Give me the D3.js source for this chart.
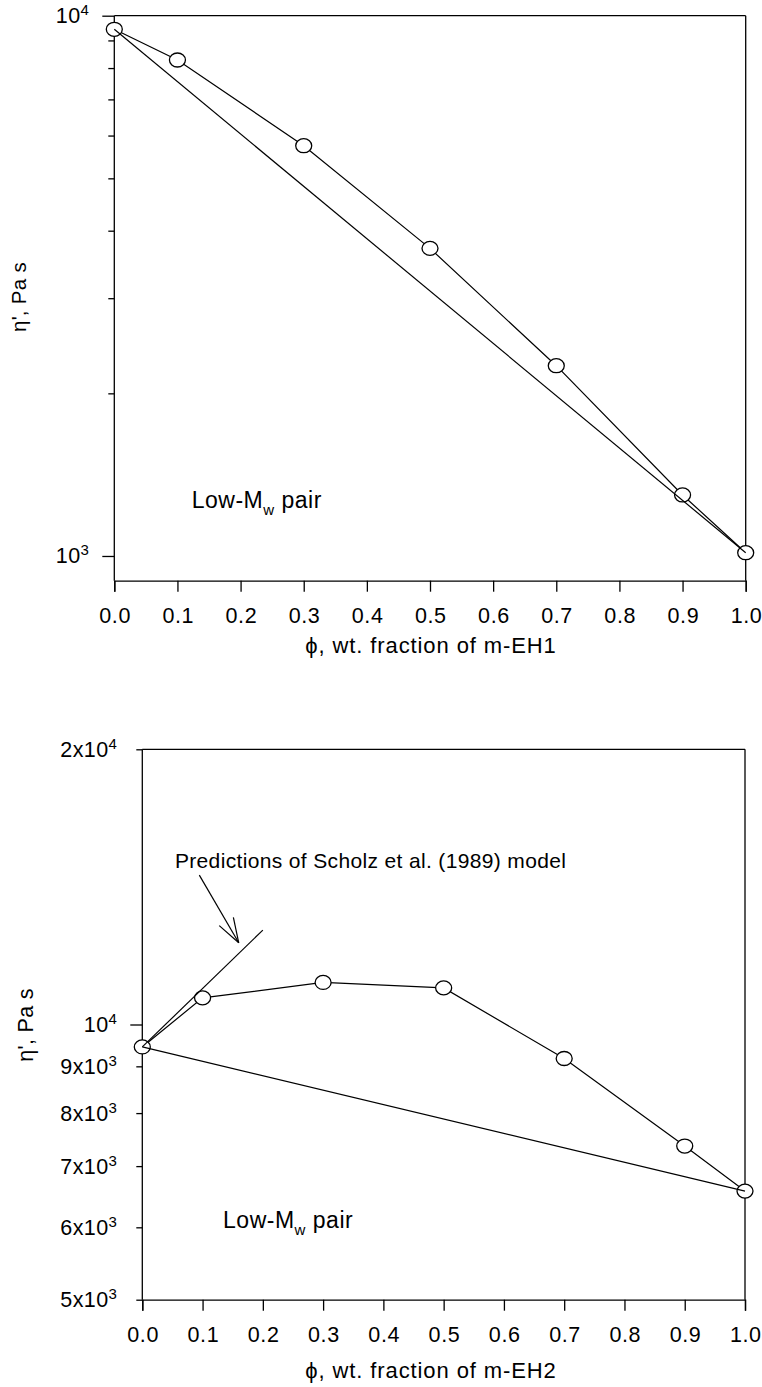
<!DOCTYPE html>
<html>
<head>
<meta charset="utf-8">
<script src="https://cdn.jsdelivr.net/npm/d3@7"></script>
<style>
  html, body { margin: 0; padding: 0; background: #fff; }
  svg { display: block; }
  text { font-family: "Liberation Sans", Arial, Helvetica, sans-serif; fill: #000; }
</style>
</head>
<body>
<svg id="chart" width="762" height="1387"></svg>
<script>
// ---------- data ----------
const phi = [0, 0.1, 0.3, 0.5, 0.7, 0.9, 1.0];
const etaTop = [9437, 8279, 5746, 3710, 2250, 1297, 1014];       // m-EH1 blends
const etaBottom = [9451, 10693, 11118, 10966, 9179, 7363, 6573];  // m-EH2 blends
const scholzPhi = [0, 0.2];
const scholzEta = [9451, 12683];
const xTicks = [0, 0.1, 0.2, 0.3, 0.4, 0.5, 0.6, 0.7, 0.8, 0.9, 1.0];
const topMajorTicks = [1000, 10000];
const topMinorTicks = [2000, 3000, 4000, 5000, 6000, 7000, 8000, 9000];
const bottomLabelTicks = [5000, 6000, 7000, 8000, 9000, 10000, 20000];
const bottomMajorTicks = [10000];
const bottomMinorTicks = [5000, 6000, 7000, 8000, 9000, 20000];
const topXTitle = "ϕ, wt. fraction of m-EH1";
const bottomXTitle = "ϕ, wt. fraction of m-EH2";
const yTitle = "η', Pa s";
const noteText = "Predictions of Scholz et al. (1989) model";

const svg = d3.select("#chart");
const FS_TICK = 21.5, FS_TITLE = 22, FS_SUP = 15;

function supLabel(sel, base, exp) {
  sel.text(null);
  sel.append("tspan").text(base);
  sel.append("tspan").attr("dy", -8).attr("font-size", FS_SUP).text(exp);
}
function fmtSci(v) {
  const e = Math.floor(Math.log10(v) + 1e-9);
  const m = Math.round(v / Math.pow(10, e));
  return { base: m === 1 ? "10" : m + "x10", exp: String(e) };
}

function panel(cfg) {
  const g = svg.append("g");
  const x = d3.scaleLinear().domain([0, 1]).range([cfg.left, cfg.right]);
  const y = d3.scaleLog().domain(cfg.yDomain).range([cfg.bottom, cfg.top]);

  // frame (top & right)
  g.append("line").attr("x1", cfg.left).attr("x2", cfg.right).attr("y1", cfg.top).attr("y2", cfg.top)
    .attr("stroke", "#000").attr("stroke-width", 1.3);
  g.append("line").attr("x1", cfg.right).attr("x2", cfg.right).attr("y1", cfg.top).attr("y2", cfg.bottom)
    .attr("stroke", "#000").attr("stroke-width", 1.3);

  // x axis
  const xa = g.append("g").attr("transform", `translate(0,${cfg.bottom})`)
    .call(d3.axisBottom(x).tickValues(xTicks).tickSize(11).tickPadding(14).tickFormat(d3.format(".1f")));
  xa.select(".domain").attr("stroke", "#000").attr("stroke-width", 1.3);
  xa.selectAll(".tick line").attr("stroke", "#000").attr("stroke-width", 1.3);
  xa.selectAll(".tick text").attr("font-size", FS_TICK).attr("font-family", null)
    .attr("letter-spacing", 0.6).attr("dx", 0.3)
    .attr("dy", null).attr("y", 42.6);

  // y axis: major ticks
  const ya = g.append("g").attr("transform", `translate(${cfg.left},0)`)
    .call(d3.axisLeft(y).tickValues(cfg.majorTicks).tickSize(12).tickSizeOuter(0).tickFormat(() => ""));
  ya.select(".domain").attr("stroke", "#000").attr("stroke-width", 1.3)
    .attr("d", `M0,${cfg.bottom}V${cfg.top}`);
  ya.selectAll(".tick line").attr("stroke", "#000").attr("stroke-width", 1.3);
  ya.selectAll(".tick text").remove();
  // minor ticks
  const ym = g.append("g").attr("transform", `translate(${cfg.left},0)`)
    .call(d3.axisLeft(y).tickValues(cfg.minorTicks).tickSize(6).tickFormat(() => ""));
  ym.select(".domain").remove();
  ym.selectAll(".tick line").attr("stroke", "#000").attr("stroke-width", 1.3);
  ym.selectAll(".tick text").remove();
  // labels
  g.selectAll(".ylab").data(cfg.labelTicks).join("text")
    .attr("class", "ylab")
    .attr("x", cfg.left - 25)
    .attr("y", d => y(d) + 7.5)
    .attr("text-anchor", "end")
    .attr("font-size", FS_TICK)
    .attr("letter-spacing", 0.4)
    .each(function (d) { const f = fmtSci(d); supLabel(d3.select(this), f.base, f.exp); });

  // axis titles
  g.append("text").attr("x", 431).attr("y", cfg.bottom + cfg.xTitleOff).attr("text-anchor", "middle")
    .attr("font-size", FS_TITLE).attr("letter-spacing", 0.9).text(cfg.xTitle);
  g.append("text").attr("transform", `translate(${cfg.yTitleX},${cfg.yTitleY}) rotate(-90)`)
    .attr("text-anchor", "middle").attr("font-size", cfg.yTitleSize).attr("letter-spacing", 0.3).text(yTitle);

  // data line
  const pts = phi.map((p, i) => [p, cfg.eta[i]]);
  const line = d3.line().x(d => x(d[0])).y(d => y(d[1]));
  g.append("path").attr("d", line(pts)).attr("fill", "none").attr("stroke", "#000").attr("stroke-width", 1.2);
  g.selectAll(".pt").data(pts).join("ellipse").attr("class", "pt")
    .attr("cx", d => x(d[0])).attr("cy", d => y(d[1])).attr("rx", 8).attr("ry", 7)
    .attr("fill", "#fff").attr("stroke", "#000").attr("stroke-width", 1.3);
  // log-additivity line between the pure components
  const mix = [pts[0], pts[pts.length - 1]];
  g.append("path").attr("d", line(mix)).attr("fill", "none").attr("stroke", "#000").attr("stroke-width", 1.2);

  // label
  const lt = g.append("text").attr("x", x(cfg.lowPos[0])).attr("y", y(cfg.lowPos[1]))
    .attr("font-size", 23).attr("letter-spacing", 0.5);
  lt.append("tspan").text("Low-M");
  lt.append("tspan").attr("dy", 7).attr("font-size", 15).text("w");
  lt.append("tspan").attr("dy", -7).text(" pair");
  return { g, x, y, line };
}

panel({
  left: 114.3, right: 745.7, top: 15.7, bottom: 580.7,
  yDomain: [900, 10000],
  majorTicks: topMajorTicks, minorTicks: topMinorTicks, labelTicks: topMajorTicks,
  eta: etaTop, xTitle: topXTitle, xTitleOff: 72.6, yTitleX: 26, yTitleY: 297, yTitleSize: 20.5,
  lowPos: [0.1226, 1225]
});

const p2 = panel({
  left: 142.3, right: 745, top: 749.3, bottom: 1299.7,
  yDomain: [5000, 20000],
  majorTicks: bottomMajorTicks, minorTicks: bottomMinorTicks, labelTicks: bottomLabelTicks,
  eta: etaBottom, xTitle: bottomXTitle, xTitleOff: 78.6, yTitleX: 33, yTitleY: 1025, yTitleSize: 21.5,
  lowPos: [0.134, 5984]
});

// Scholz prediction line + annotation
const sch = scholzPhi.map((p, i) => [p, scholzEta[i]]);
p2.g.append("path").attr("d", p2.line(sch)).attr("fill", "none").attr("stroke", "#000").attr("stroke-width", 1.2);
const noteAt = [0.0541, 14823];
p2.g.append("text").attr("x", p2.x(noteAt[0])).attr("y", p2.y(noteAt[1]))
  .attr("font-size", 21).attr("letter-spacing", 0.35).text(noteText);
const arrowFrom = [0.0946, 14567], arrowTo = [0.16, 12285];
const ax1 = p2.x(arrowFrom[0]), ay1 = p2.y(arrowFrom[1]), ax2 = p2.x(arrowTo[0]), ay2 = p2.y(arrowTo[1]);
p2.g.append("line").attr("x1", ax1).attr("y1", ay1).attr("x2", ax2).attr("y2", ay2).attr("stroke", "#000").attr("stroke-width", 1.2);
const ang = Math.atan2(ay2 - ay1, ax2 - ax1);
[-0.32, 0.32].forEach(da => {
  const a = ang + Math.PI + da;
  p2.g.append("line").attr("x1", ax2).attr("y1", ay2)
    .attr("x2", ax2 + 26 * Math.cos(a)).attr("y2", ay2 + 26 * Math.sin(a))
    .attr("stroke", "#000").attr("stroke-width", 1.2);
});
</script>
</body>
</html>
